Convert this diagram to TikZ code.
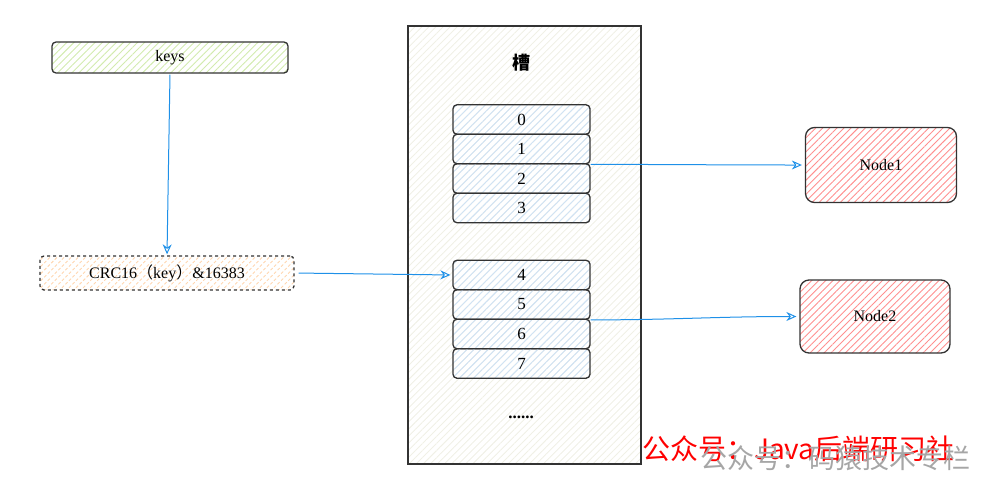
\documentclass[tikz,border=0pt]{standalone}
\usepackage{fontspec}
\setmainfont{Liberation Serif}
\newfontfamily\cjk{Noto Sans CJK SC}
\usetikzlibrary{arrows.meta,patterns.meta}
\definecolor{edge}{HTML}{333333}
\definecolor{arrowblue}{HTML}{1E90E8}
\definecolor{greenhatch}{HTML}{D2EBAE}
\definecolor{orangehatch}{HTML}{FFD6B0}
\definecolor{bluehatch}{HTML}{CFE2F5}
\definecolor{creamhatch}{HTML}{F0F0E6}
\definecolor{redhatch}{HTML}{FF8F8F}
\tikzset{
  hatch/.style={pattern={Lines[angle=45,distance=5pt,line width=0.9pt]},pattern color=#1},
  box/.style={draw=edge,line width=1.3pt,rounded corners=4pt,inner sep=0pt,font=\fontsize{16}{19}\selectfont},
  slotbox/.style={box,hatch=bluehatch,minimum width=137pt,minimum height=29.5pt,font=\fontsize{17}{20}\selectfont},
  nodebox/.style={box,hatch=redhatch,rounded corners=9pt,minimum width=151pt,minimum height=75pt,font=\fontsize{16}{19}\selectfont},
  link/.style={draw=arrowblue,line width=1pt,-{Stealth[open,length=10pt,width=9pt]}}
}
\begin{document}
\begin{tikzpicture}[x=1pt,y=-1pt]
\useasboundingbox (0,0) rectangle (985,477);
% container
\node[draw=edge,line width=1.2pt,hatch=creamhatch,minimum width=233pt,minimum height=438pt,inner sep=0pt] (slots) at (524.5,245) {};
\node[font=\cjk\bfseries\fontsize{18}{21}\selectfont] (title) at (521,63) {槽};
% slots
\node[slotbox] (s0) at (521.5,119.5) {0};
\node[slotbox] (s1) at (521.5,149) {1};
\node[slotbox] (s2) at (521.5,178.5) {2};
\node[slotbox] (s3) at (521.5,208) {3};
\node[slotbox] (s4) at (521.5,275) {4};
\node[slotbox] (s5) at (521.5,304.5) {5};
\node[slotbox] (s6) at (521.5,334) {6};
\node[slotbox] (s7) at (521.5,363.5) {7};
\node[font=\bfseries\fontsize{17}{20}\selectfont] (dots) at (521,417) {......};
% left boxes
\node[box,hatch=greenhatch,minimum width=236pt,minimum height=31pt] (keys) at (170,57.5) {keys};
\node[box,dashed,hatch=orangehatch,minimum width=254pt,minimum height=34pt] (crc) at (167,273) {CRC16{\cjk（}key{\cjk）}\&16383};
% nodes
\node[nodebox] (n1) at (881,165) {Node1};
\node[nodebox,minimum width=150pt,minimum height=73pt] (n2) at (875,316.5) {Node2};
% connectors
\draw[link,shorten <=1pt,shorten >=1pt] (keys.south) -- (crc.north);
\draw[link,shorten <=4pt,shorten >=2pt] (crc.east) -- (s4.west);
\draw[link,shorten >=3pt] (s1.south east) to[out=0,in=180] (n1.west);
\draw[link,shorten >=3pt] (s5.south east) to[out=0,in=180] (n2.west);
% watermark
\node[anchor=west,text=red,font=\cjk\fontsize{28}{31}\selectfont,inner sep=0pt] (wm1) at (642,449) {公众号：Java后端研习社};
\node[anchor=west,text=black!35,font=\cjk\fontsize{27}{30}\selectfont,inner sep=0pt] (wm2) at (700,458) {公众号：码猿技术专栏};
\end{tikzpicture}
\end{document}
